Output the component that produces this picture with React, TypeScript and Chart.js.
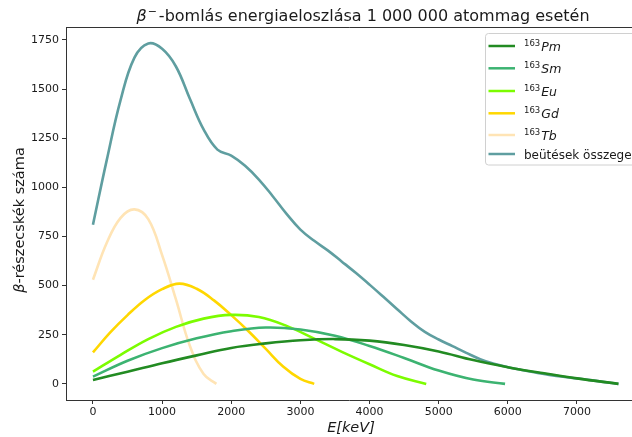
import React, { useEffect, useRef } from "react";
import { Chart, registerables } from "chart.js";
Chart.register(...registerables);

const FONT = "'DejaVu Sans', sans-serif";
const TEXT = "#1a1a1a";
const SPINE = "#333333";

// ---- data (energy in keV, counts) ----
const tbE = [0, 200, 400, 600, 800, 1000, 1200, 1400, 1600, 1785];
const tbN = [530, 718, 845, 888, 838, 655, 430, 195, 50, 0];

const gdE = [0, 250, 500, 750, 1000, 1250, 1500, 1750, 2000, 2250, 2500, 2750, 3000, 3200];
const gdN = [160, 262, 350, 427, 482, 510, 484, 425, 350, 268, 178, 88, 25, 0];

const euE = [0, 400, 800, 1200, 1600, 2000, 2400, 2800, 3200, 3600, 4000, 4400, 4820];
const euN = [62, 148, 228, 290, 332, 351, 340, 295, 230, 163, 100, 40, 0];

const smE = [0, 500, 1000, 1500, 2000, 2500, 3000, 3500, 4000, 4500, 5000, 5500, 5960];
const smN = [37, 118, 182, 232, 268, 287, 277, 245, 193, 132, 68, 22, 0];

const pmE = [0, 500, 1000, 1500, 2000, 2500, 3000, 3500, 4000, 4500, 5000, 5500, 6000, 6500, 7000, 7600];
const pmN = [20, 62, 105, 145, 183, 206, 222, 228, 220, 198, 165, 121, 85, 55, 28, 0];

const sumE = [0, 200, 400, 600, 800, 1000, 1200, 1400, 1600, 1800, 2000, 2200, 2400, 2600, 2800, 3000, 3200, 3400, 3600, 3800, 4000, 4200, 4400, 4600, 4800, 5000, 5200, 5400, 5600, 5800, 6000, 6200, 6400, 6600, 6800, 7000, 7200, 7400, 7600];
const sumN = [810, 1140, 1445, 1660, 1732, 1705, 1615, 1452, 1295, 1192, 1162, 1110, 1040, 955, 865, 785, 728, 678, 622, 565, 505, 443, 380, 318, 265, 226, 192, 158, 126, 102, 85, 71, 58, 46, 36, 28, 19, 9, 0];

const xTicks = [0, 1000, 2000, 3000, 4000, 5000, 6000, 7000];
const yTicks = [0, 250, 500, 750, 1000, 1250, 1500, 1750];

const massNumber = "163";
const isotopes = ["Pm", "Sm", "Eu", "Gd", "Tb"];
const sumLabel = "beütések összege";
const colors = ["#228B22", "#3CB371", "#7CFC00", "#FFD700", "#FFE4B5", "#5F9EA0"];

const titleText = "-bomlás energiaeloszlása 1 000 000 atommag esetén";
const yLabelText = "-részecskék száma";
const xLabelText = "E[keV]";

function pts(e: number[], n: number[]) {
  return e.map((x, i) => ({ x, y: n[i] }));
}

const overlay = {
  id: "overlay",
  afterDraw(chart: any) {
    const ctx: CanvasRenderingContext2D = chart.ctx;
    const ca = chart.chartArea;
    ctx.save();
    // top spine
    ctx.strokeStyle = SPINE;
    ctx.lineWidth = 1;
    ctx.beginPath();
    const ty = Math.round(ca.top) + 0.5;
    ctx.moveTo(Math.round(ca.left) + 0.5, ty);
    ctx.lineTo(ca.right + 2, ty);
    ctx.stroke();

    ctx.fillStyle = TEXT;
    ctx.textBaseline = "alphabetic";
    ctx.textAlign = "left";

    // title
    const tSize = 16;
    const fB = `italic ${tSize}px ${FONT}`;
    const fS = `${Math.round(tSize * 0.7)}px ${FONT}`;
    const fT = `${tSize}px ${FONT}`;
    ctx.font = fB; const wB = ctx.measureText("β").width;
    ctx.font = fS; const wS = ctx.measureText("−").width;
    ctx.font = fT; const wT = ctx.measureText(titleText).width;
    const tot = wB + 1 + wS + 2 + wT;
    let tx = 363 - tot / 2;
    const tby = 21;
    ctx.font = fB; ctx.fillText("β", tx, tby); tx += wB + 1;
    ctx.font = fS; ctx.fillText("−", tx, tby - 6); tx += wS + 2;
    ctx.font = fT; ctx.fillText(titleText, tx, tby);

    // x label
    ctx.font = `italic 14.5px ${FONT}`;
    ctx.textAlign = "center";
    ctx.fillText(xLabelText, 351, 432);

    // y label
    ctx.save();
    ctx.translate(24, 220);
    ctx.rotate(-Math.PI / 2);
    ctx.font = `italic 14.5px ${FONT}`;
    const wb = ctx.measureText("β").width;
    ctx.font = `14.5px ${FONT}`;
    const wr = ctx.measureText(yLabelText).width;
    const start = -(wb + wr) / 2;
    ctx.textAlign = "left";
    ctx.font = `italic 14.5px ${FONT}`;
    ctx.fillText("β", start, 0);
    ctx.font = `14.5px ${FONT}`;
    ctx.fillText(yLabelText, start + wb, 0);
    ctx.restore();

    // legend
    const lx = 485.5, ly = 33.5, lw = 200, lh = 131.5;
    ctx.beginPath();
    const r = 3;
    ctx.moveTo(lx + r, ly);
    ctx.lineTo(lx + lw, ly);
    ctx.lineTo(lx + lw, ly + lh);
    ctx.lineTo(lx + r, ly + lh);
    ctx.arcTo(lx, ly + lh, lx, ly + lh - r, r);
    ctx.lineTo(lx, ly + r);
    ctx.arcTo(lx, ly, lx + r, ly, r);
    ctx.closePath();
    ctx.fillStyle = "rgba(255,255,255,0.85)";
    ctx.fill();
    ctx.strokeStyle = "#d0d0d0";
    ctx.lineWidth = 1;
    ctx.stroke();

    const rows = [46, 68.3, 91, 113.3, 135, 154];
    ctx.textAlign = "left";
    rows.forEach((y, i) => {
      ctx.strokeStyle = colors[i];
      ctx.lineWidth = 2.5;
      ctx.beginPath();
      ctx.moveTo(488.5, y);
      ctx.lineTo(515, y);
      ctx.stroke();
      ctx.fillStyle = TEXT;
      if (i < 5) {
        const base = y + 5;
        ctx.font = `8.5px ${FONT}`;
        ctx.fillText(massNumber, 524, base - 5);
        const w = ctx.measureText(massNumber).width;
        ctx.font = `italic 12.5px ${FONT}`;
        ctx.fillText(isotopes[i], 524 + w + 1, base);
      } else {
        ctx.font = `12px ${FONT}`;
        ctx.fillText(sumLabel, 524, y + 4.5);
      }
    });
    ctx.restore();
  },
};

export default function App() {
  const ref = useRef<HTMLCanvasElement | null>(null);
  useEffect(() => {
    document.body.style.margin = "0";
    const cv = ref.current!;
    const tickCommon = {
      font: { family: "DejaVu Sans", size: 11 },
      color: TEXT,
      autoSkip: false,
      maxRotation: 0,
      callback: (v: any) => String(v),
    };
    const chart = new Chart(cv, {
      type: "line",
      data: {
        datasets: [
          { label: "Pm", data: pts(pmE, pmN), borderColor: colors[0] },
          { label: "Sm", data: pts(smE, smN), borderColor: colors[1] },
          { label: "Eu", data: pts(euE, euN), borderColor: colors[2] },
          { label: "Gd", data: pts(gdE, gdN), borderColor: colors[3] },
          { label: "Tb", data: pts(tbE, tbN), borderColor: colors[4] },
          { label: sumLabel, data: pts(sumE, sumN), borderColor: colors[5] },
        ].map((d) => ({
          ...d,
          borderWidth: 2.6,
          pointRadius: 0,
          fill: false,
          tension: 0.4,
        })),
      },
      options: {
        animation: false,
        responsive: false,
        layout: { padding: { left: 0, right: 0, top: 27, bottom: 0 } },
        plugins: {
          legend: { display: false },
          title: { display: false },
          tooltip: { enabled: false },
        },
        scales: {
          x: {
            type: "linear",
            min: -390,
            max: 7796,
            afterFit: (s: any) => { s.height = 37; },
            afterBuildTicks: (s: any) => { s.ticks = xTicks.map((v) => ({ value: v })); },
            grid: { display: true, drawOnChartArea: false, drawTicks: true, tickLength: 4, tickColor: SPINE, color: SPINE },
            border: { display: true, color: SPINE, width: 1 },
            ticks: { ...tickCommon, padding: 2 },
          },
          y: {
            type: "linear",
            min: -82,
            max: 1816,
            afterFit: (s: any) => { s.width = 66; },
            afterBuildTicks: (s: any) => { s.ticks = yTicks.map((v) => ({ value: v })); },
            grid: { display: true, drawOnChartArea: false, drawTicks: true, tickLength: 4, tickColor: SPINE, color: SPINE },
            border: { display: true, color: SPINE, width: 1 },
            ticks: { ...tickCommon, padding: 3 },
          },
        },
      },
      plugins: [overlay],
    });
    return () => chart.destroy();
  }, []);
  return (
    <div style={{ width: 632, height: 437, overflow: "hidden" }}>
      <canvas ref={ref} width={632} height={437} style={{ display: "block" }} />
    </div>
  );
}
